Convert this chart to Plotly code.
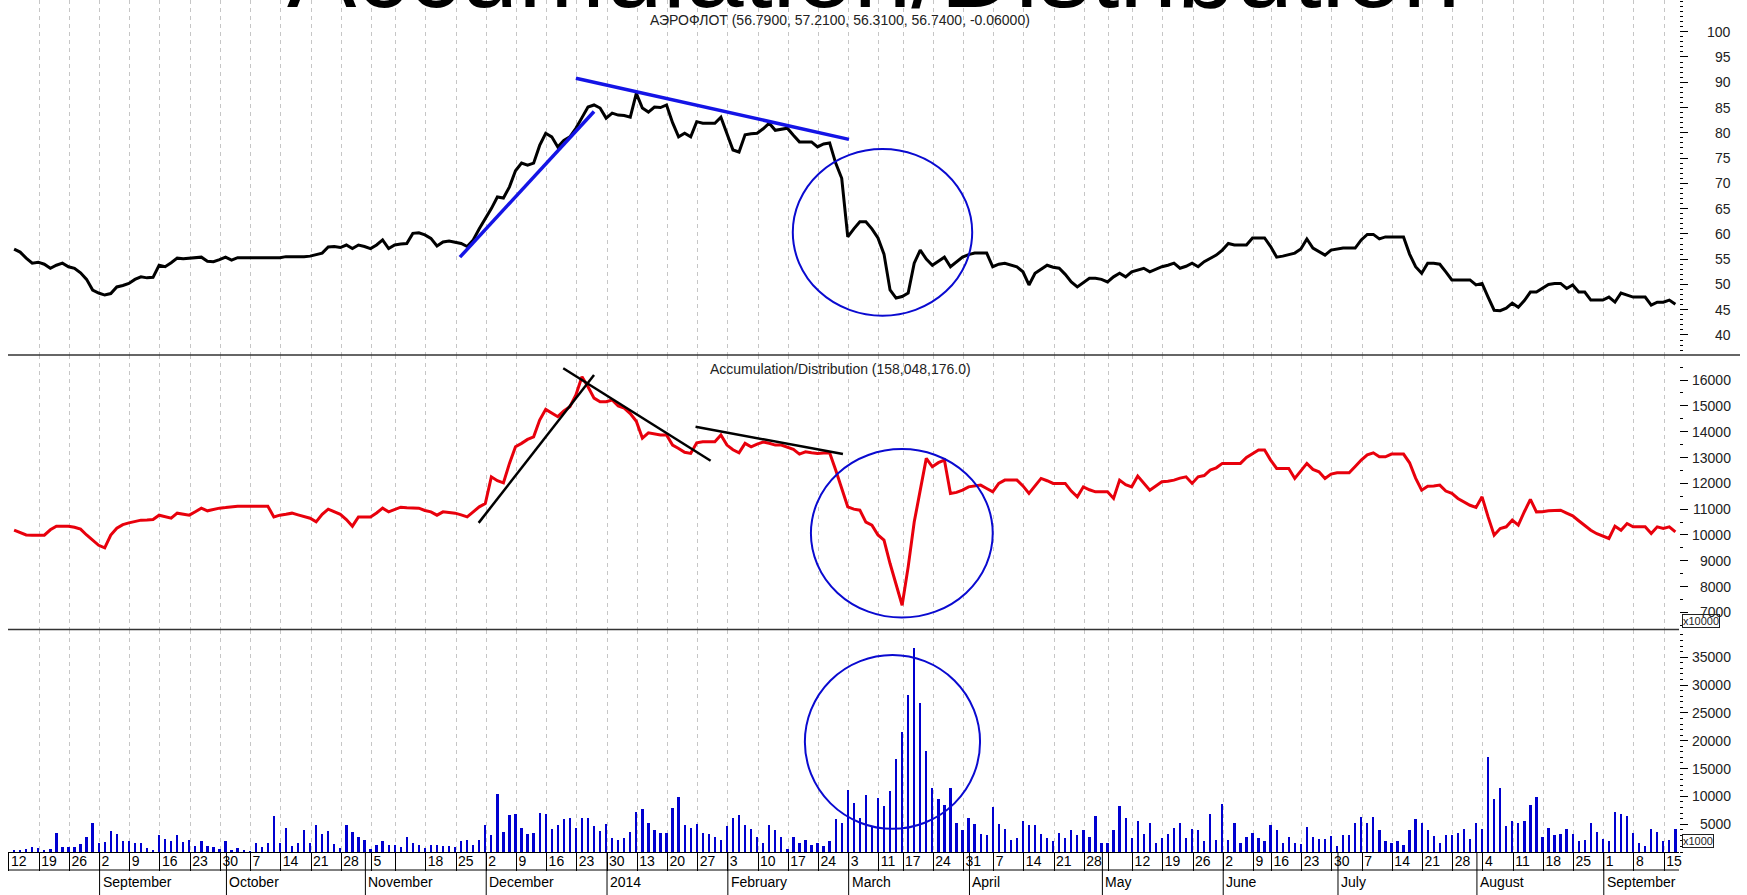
import pandas as pd
import plotly.graph_objects as go
from plotly.subplots import make_subplots

FONT = "Liberation Sans, Arial, sans-serif"

# trading calendar (MICEX), Aug 2013 - Sep 2014
HOLIDAYS = ["2013-11-04", "2014-01-01", "2014-01-02", "2014-01-06", "2014-01-07", "2014-01-08",
            "2014-03-10", "2014-05-01", "2014-05-09", "2014-06-12", "2014-06-13"]
DATES = [d for d in pd.bdate_range("2013-08-12", "2014-09-16").strftime("%Y-%m-%d") if d not in HOLIDAYS]

# close price, RUB
PRICE = [
    57.0, 56.4, 55.2, 54.2, 54.4, 54.0, 53.2, 53.8, 54.2, 53.5, 53.2, 52.3, 51.0, 48.9, 48.3, 47.9, 48.2, 49.5, 49.8, 50.2,
    51.0, 51.5, 51.3, 51.4, 53.8, 53.5, 54.3, 55.2, 55.1, 55.2, 55.2, 55.4, 54.6, 54.5, 54.9, 55.4, 54.8, 55.3, 55.3, 55.3,
    55.3, 55.3, 55.4, 55.4, 55.3, 55.5, 55.5, 55.4, 55.5, 55.6, 55.9, 56.2, 57.4, 57.5, 57.3, 57.8, 57.1, 57.8, 57.5, 57.1,
    57.8, 58.8, 57.1, 57.8, 58.0, 58.1, 60.1, 60.2, 59.8, 59.1, 57.6, 58.4, 58.6, 58.4, 58.1, 57.5, 58.8, 61.0, 63.0, 65.0,
    67.3, 67.1, 69.3, 72.5, 74.0, 73.6, 74.0, 77.5, 79.9, 79.2, 77.2, 78.5, 79.2, 80.9, 83.0, 85.1, 85.5, 84.9, 82.9, 83.9,
    83.5, 83.4, 83.1, 87.8, 84.9, 84.1, 85.1, 85.0, 85.5, 82.0, 79.2, 79.9, 79.2, 82.2, 81.9, 81.9, 81.9, 83.1, 80.0, 76.6,
    76.2, 79.6, 79.8, 79.9, 80.8, 81.9, 80.5, 80.7, 80.9, 79.5, 78.2, 78.2, 78.2, 77.2, 77.8, 78.0, 74.0, 71.0, 59.4, 61.0,
    62.4, 62.4, 61.0, 59.2, 56.0, 48.9, 47.3, 47.6, 48.3, 54.2, 56.8, 55.0, 53.8, 54.6, 55.4, 53.5, 54.5, 55.4, 55.9, 56.2,
    56.2, 56.2, 53.5, 54.0, 54.2, 53.8, 53.5, 52.5, 49.9, 52.2, 53.0, 53.8, 53.4, 53.2, 52.0, 50.5, 49.5, 50.3, 51.2, 51.2,
    51.0, 50.5, 51.5, 52.2, 51.5, 52.5, 52.8, 53.2, 52.5, 53.0, 53.5, 53.8, 54.2, 53.2, 53.6, 54.2, 53.5, 54.5, 55.2, 55.8,
    56.8, 58.1, 57.8, 57.8, 57.8, 59.2, 59.2, 59.2, 57.5, 55.4, 55.6, 55.9, 56.2, 57.0, 59.0, 57.2, 56.5, 55.8, 56.8, 57.0,
    57.2, 57.2, 57.2, 58.8, 59.9, 59.9, 59.0, 59.4, 59.4, 59.4, 59.4, 56.0, 53.5, 52.2, 54.2, 54.2, 54.0, 52.5, 50.9, 50.9,
    50.9, 50.9, 49.9, 50.2, 47.5, 44.9, 44.8, 45.3, 46.3, 45.5, 46.8, 48.5, 48.5, 49.2, 50.0, 50.2, 50.2, 49.2, 49.9, 48.5,
    48.5, 46.9, 46.9, 46.9, 47.5, 46.5, 48.3, 47.9, 47.5, 47.5, 47.5, 45.9, 46.5, 46.5, 46.9, 46.1,
]

# accumulation/distribution, x10000
AD = [
    10186, 10100, 10000, 9992, 9990, 9992, 10200, 10341, 10341, 10341, 10300, 10225, 10000, 9800, 9600, 9500, 10000, 10264, 10400, 10470,
    10520, 10574, 10580, 10600, 10767, 10700, 10651, 10845, 10800, 10767, 10900, 11039, 10935, 10990, 11039, 11060, 11090, 11116, 11116, 11116,
    11116, 11116, 11116, 10700, 10767, 10800, 10845, 10780, 10700, 10650, 10508, 10800, 11000, 10895, 10800, 10600, 10341, 10700, 10700, 10700,
    10850, 11039, 10895, 11000, 11077, 11050, 11039, 11039, 10950, 10895, 10767, 10895, 10870, 10845, 10780, 10700, 10895, 11090, 11220, 12252,
    12100, 12019, 12771, 13415, 13547, 13700, 13802, 14450, 14864, 14709, 14579, 14800, 14966, 15419, 16128, 15740, 15300, 15159, 15159, 15225,
    15000, 14915, 14700, 14400, 13752, 13958, 13900, 13868, 13868, 13480, 13350, 13200, 13158, 13570, 13608, 13608, 13608, 13868, 13480, 13300,
    13182, 13547, 13415, 13520, 13600, 13550, 13480, 13480, 13400, 13313, 13132, 13221, 13180, 13158, 13170, 13182, 12512, 11800, 11090, 11000,
    10961, 10500, 10380, 10000, 9800, 8895, 8100, 7279, 8766, 10500, 11736, 12965, 12640, 12800, 12900, 11609, 11650, 11736, 11864, 11900,
    11930, 11800, 11671, 12000, 12124, 12124, 12124, 11900, 11609, 11900, 12190, 12100, 11997, 11997, 11997, 11700, 11477, 11864, 11750, 11671,
    11671, 11671, 11415, 12124, 11950, 11864, 12279, 12000, 11736, 11900, 12059, 12080, 12124, 12200, 12252, 11997, 12252, 12300, 12512, 12600,
    12771, 12771, 12771, 12771, 13000, 13158, 13287, 13287, 12900, 12578, 12578, 12578, 12190, 12500, 12771, 12538, 12447, 12190, 12357, 12407,
    12407, 12407, 12650, 12900, 13100, 13182, 13027, 13027, 13132, 13132, 13132, 12795, 12200, 11736, 11891, 11900, 11930, 11700, 11609, 11415,
    11283, 11150, 11066, 11477, 10700, 9992, 10251, 10316, 10574, 10380, 10900, 11376, 10895, 10900, 10940, 10961, 10961, 10850, 10740, 10550,
    10350, 10186, 10050, 9950, 9864, 10341, 10186, 10444, 10316, 10316, 10316, 10058, 10316, 10251, 10316, 10121,
]

# volume, x1000
VOLUME = [
    420, 420, 600, 900, 780, 420, 600, 3580, 900, 900, 900, 1610, 2800, 5370, 1790, 1970, 3880, 3280, 2090, 2090,
    1790, 1790, 780, 420, 3160, 2390, 2090, 3160, 1970, 2210, 1190, 2090, 1250, 900, 600, 2090, 420, 780, 420, 300,
    1790, 1010, 1790, 6570, 1790, 4480, 1190, 1790, 4000, 1790, 4960, 3280, 3880, 1490, 780, 4960, 3760, 2800, 2210, 600,
    1370, 2090, 1370, 1370, 900, 2800, 1790, 1370, 780, 1370, 1370, 1190, 1190, 900, 2090, 2210, 1370, 2210, 4960, 3160,
    10570, 3760, 6750, 6980, 4360, 3400, 3580, 7160, 6980, 4180, 4960, 5970, 6270, 4360, 6270, 6270, 4780, 3880, 5070, 2570,
    2210, 2570, 3760, 7340, 7760, 5370, 4000, 3500, 3580, 7940, 9970, 4960, 4360, 5070, 3580, 3400, 2800, 2210, 4780, 6270,
    6750, 4960, 4180, 2800, 1790, 4960, 4000, 2800, 600, 2800, 1790, 2210, 1370, 1790, 1190, 2090, 5970, 5370, 11160, 8960,
    6270, 10330, 4780, 9850, 8360, 11050, 16720, 21670, 28360, 36700, 26870, 18210, 11640, 9550, 8540, 11640, 5370, 4000, 6270, 5190,
    3400, 3160, 8180, 5190, 4180, 2210, 2690, 5670, 4960, 4960, 3280, 2690, 2090, 3580, 2570, 4000, 3160, 4000, 2800, 6570,
    1790, 1790, 4000, 8360, 6270, 2570, 5670, 3400, 5370, 1790, 2690, 3400, 4480, 5370, 2690, 4180, 4000, 2090, 6980, 2210,
    8660, 2210, 5370, 1790, 2800, 3580, 2690, 2090, 4960, 4000, 1790, 2800, 1790, 1500, 4600, 2700, 2380, 2380, 2950, 1200,
    3150, 3200, 5220, 6300, 5220, 6300, 4030, 2120, 1640, 2120, 1340, 4030, 5940, 5340, 4030, 2960, 1640, 3130, 3130, 3430,
    4150, 2360, 5220, 4270, 17170, 9530, 11620, 4750, 5700, 5340, 5700, 8510, 10010, 2840, 4390, 3130, 3310, 4150, 3310, 2120,
    2240, 5220, 3730, 2420, 2120, 7310, 6900, 6540, 3430, 1640, 1220, 4150, 3730, 2120, 2240, 4150,
]

WEEK_DATES = ["2013-08-12", "2013-08-19", "2013-08-26", "2013-09-02", "2013-09-09", "2013-09-16", "2013-09-23",
              "2013-09-30", "2013-10-07", "2013-10-14", "2013-10-21", "2013-10-28", "2013-11-05", "2013-11-11",
              "2013-11-18", "2013-11-25", "2013-12-02", "2013-12-09", "2013-12-16", "2013-12-23", "2013-12-30",
              "2014-01-13", "2014-01-20", "2014-01-27", "2014-02-03", "2014-02-10", "2014-02-17", "2014-02-24",
              "2014-03-03", "2014-03-11", "2014-03-17", "2014-03-24", "2014-03-31", "2014-04-07", "2014-04-14",
              "2014-04-21", "2014-04-28", "2014-05-05", "2014-05-12", "2014-05-19", "2014-05-26", "2014-06-02",
              "2014-06-09", "2014-06-16", "2014-06-23", "2014-06-30", "2014-07-07", "2014-07-14", "2014-07-21",
              "2014-07-28", "2014-08-04", "2014-08-11", "2014-08-18", "2014-08-25", "2014-09-01", "2014-09-08",
              "2014-09-15"]
WEEK_TEXT = ["12", "19", "26", "2", "9", "16", "23", "30", "7", "14", "21", "28", "5", "", "18", "25", "2", "9",
             "16", "23", "30", "13", "20", "27", "3", "10", "17", "24", "3", "11", "17", "24", "31", "7", "14", "21",
             "28", "", "12", "19", "26", "2", "9", "16", "23", "30", "7", "14", "21", "28", "4", "11", "18", "25",
             "1", "8", "15"]

MONTH_DATES = ["2013-09-02", "2013-10-01", "2013-11-01", "2013-12-02", "2013-12-30", "2014-02-03", "2014-03-03",
               "2014-04-01", "2014-05-02", "2014-06-02", "2014-07-01", "2014-08-01", "2014-09-01"]
MONTH_TEXT = ["September", "October", "November", "December", "2014", "February", "March", "April", "May",
              "June", "July", "August", "September"]

PRICE_TICKS = [40, 45, 50, 55, 60, 65, 70, 75, 80, 85, 90, 95, 100]
AD_TICKS = [7000, 8000, 9000, 10000, 11000, 12000, 13000, 14000, 15000, 16000]
VOL_TICKS = [5000, 10000, 15000, 20000, 25000, 30000, 35000]

# hand-drawn markup: ((x0, y0), (x1, y1)) in day index / value
PRICE_LINES = [((73.8, 55.4), (96.0, 84.2)), ((93.0, 90.8), (138.2, 78.7))]
AD_LINES = [((76.9, 10469), (96.0, 16194)), ((90.9, 16453), (115.3, 12872)), ((112.8, 14190), (137.2, 13132))]
CIRCLES = [("y", 128.9, 158.6, 43.8, 76.8), ("y2", 131.9, 162.0, 6802, 13326), ("y3", 130.9, 159.9, 4158, 35394)]

idx = list(range(len(DATES)))
pos = {d: i for i, d in enumerate(DATES)}
OFF = 0.85  # separators sit just before the first bar of a week

W, H = 1747, 895
L, R, T, B = 8, 68, 0, 43
PW, PH = W - L - R, H - T - B


def px(xp):
    return (xp - L) / PW


def py(yp):
    return 1 - (yp - T) / PH


fig = make_subplots(rows=3, cols=1, shared_xaxes=True, vertical_spacing=0)
fig.add_trace(go.Scatter(x=idx, y=PRICE, mode="lines", line=dict(color="black", width=3)), row=1, col=1)
fig.add_trace(go.Scatter(x=idx, y=AD, mode="lines", line=dict(color="#e8000c", width=3)), row=2, col=1)
fig.add_trace(go.Bar(x=idx, y=VOLUME, marker=dict(color="#0000d0", line=dict(width=0)), width=0.38), row=3, col=1)

week_x = [pos[d] - OFF for d in WEEK_DATES]
fig.update_xaxes(range=[-1.01, 275.6], tickvals=week_x, showgrid=True, griddash="4px,4px",
                 gridcolor="#c6c6c6", gridwidth=1, zeroline=False, ticks="", showticklabels=False)
fig.update_xaxes(row=3, col=1, ticks="outside", ticklen=18, tickcolor="black", tickwidth=1,
                 ticktext=WEEK_TEXT, showticklabels=True, tickangle=0, ticklabelposition="outside right",
                 ticklabelstandoff=-4, ticklabelshift=1, showline=True, linecolor="black", linewidth=1,
                 tickfont=dict(size=14, color="black"))

split1, split2 = py(355), py(629.5)
axis_common = dict(side="right", ticks="outside", ticklen=8, tickcolor="black", showticklabels=False,
                   showgrid=False, zeroline=False)
fig.update_yaxes(row=1, col=1, domain=[split1, 1], range=[36.04, 106.27], tickvals=PRICE_TICKS,
                 minor=dict(dtick=1, ticks="outside", ticklen=3, tickcolor="black", showgrid=False), **axis_common)
fig.update_yaxes(row=2, col=1, domain=[split2, split1], range=[6341, 16968], tickvals=AD_TICKS,
                 minor=dict(dtick=500, ticks="outside", ticklen=3, tickcolor="black", showgrid=False), **axis_common)
fig.update_yaxes(row=3, col=1, domain=[0, split2], range=[0, 39986], tickvals=VOL_TICKS,
                 minor=dict(dtick=1000, ticks="outside", ticklen=3, tickcolor="black", showgrid=False), **axis_common)

shapes = [
    dict(type="line", xref="paper", yref="paper", x0=0, x1=px(1740), y0=split1, y1=split1,
         line=dict(color="#333333", width=1.5)),
    dict(type="line", xref="paper", yref="paper", x0=0, x1=1, y0=split2, y1=split2,
         line=dict(color="#333333", width=1.5)),
    dict(type="line", xref="paper", yref="paper", x0=0, x1=1, y0=py(870), y1=py(870),
         line=dict(color="black", width=1)),
]
for d in MONTH_DATES:
    shapes.append(dict(type="line", xref="x3", yref="paper", x0=pos[d] - OFF, x1=pos[d] - OFF,
                       y0=0, y1=py(H), line=dict(color="black", width=1)))
for (x0, y0), (x1, y1) in PRICE_LINES:
    shapes.append(dict(type="line", xref="x", yref="y", x0=x0, y0=y0, x1=x1, y1=y1,
                       line=dict(color="#1414e6", width=3.5)))
for (x0, y0), (x1, y1) in AD_LINES:
    shapes.append(dict(type="line", xref="x2", yref="y2", x0=x0, y0=y0, x1=x1, y1=y1,
                       line=dict(color="black", width=2.5)))
for yr, x0, x1, y0, y1 in CIRCLES:
    shapes.append(dict(type="circle", xref=yr.replace("y", "x"), yref=yr, x0=x0, x1=x1, y0=y0, y1=y1,
                       line=dict(color="#0a0ad0", width=2)))

ann = [
    dict(text="Accumulation/Distribution", x=px(873), y=py(31), xref="paper", yref="paper",
         xanchor="center", yanchor="bottom", showarrow=False, font=dict(size=104, color="black")),
    dict(text="АЭРОФЛОТ (56.7900, 57.2100, 56.3100, 56.7400, -0.06000)", x=px(648), y=py(20),
         xref="paper", yref="paper", xanchor="left", yanchor="middle", showarrow=False,
         font=dict(size=14, color="#222222")),
    dict(text="Accumulation/Distribution (158,048,176.0)", x=px(708), y=py(369),
         xref="paper", yref="paper", xanchor="left", yanchor="middle", showarrow=False,
         font=dict(size=14, color="#222222")),
    dict(text="x10000", x=px(1682), y=py(621), xref="paper", yref="paper", xanchor="left", yanchor="middle",
         showarrow=False, font=dict(size=11, color="#222222"), bordercolor="#222222", borderwidth=1,
         borderpad=0, bgcolor="white"),
    dict(text="x1000", x=px(1682), y=py(841), xref="paper", yref="paper", xanchor="left", yanchor="middle",
         showarrow=False, font=dict(size=11, color="#222222"), bordercolor="#222222", borderwidth=1,
         borderpad=0, bgcolor="white"),
]
for yr, ticks in (("y", PRICE_TICKS), ("y2", AD_TICKS), ("y3", VOL_TICKS)):
    for v in ticks:
        ann.append(dict(text=str(v), x=px(1733), y=v, xref="paper", yref=yr, xanchor="right",
                        yanchor="middle", showarrow=False, font=dict(size=14, color="#222222")))
for d, t in zip(MONTH_DATES, MONTH_TEXT):
    ann.append(dict(text=t, x=pos[d] - OFF, y=py(872), xref="x3", yref="paper", xanchor="left",
                    yanchor="top", xshift=1, showarrow=False, font=dict(size=14, color="black")))

fig.update_layout(
    width=W, height=H, margin=dict(l=L, r=R, t=T, b=B),
    plot_bgcolor="white", paper_bgcolor="white", showlegend=False, bargap=0,
    font=dict(family=FONT, size=14, color="black"),
    shapes=shapes, annotations=ann,
)

fig.write_html("out.html", config={"displayModeBar": False},
               post_script="document.body.style.margin='0';document.body.style.overflow='hidden';")
